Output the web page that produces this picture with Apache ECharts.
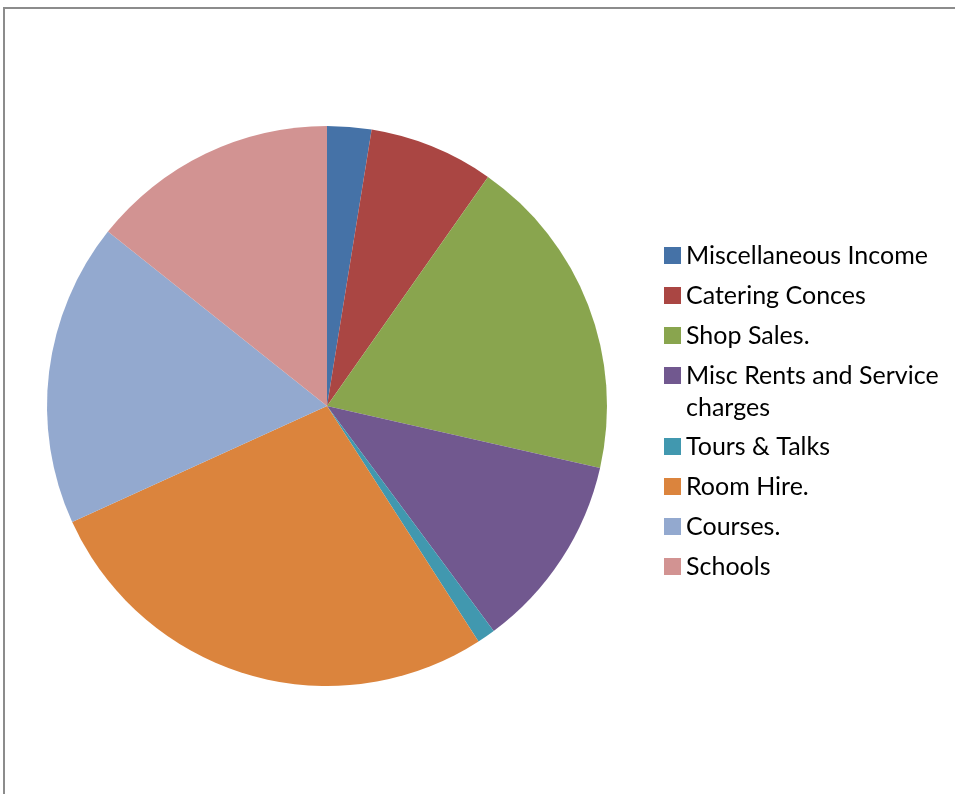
<!DOCTYPE html>
<html>
<head>
<meta charset="utf-8">
<script src="https://cdn.jsdelivr.net/npm/echarts@6/dist/echarts.min.js"></script>
<style>
  html, body { margin: 0; padding: 0; background: #fff; }
  #main { width: 955px; height: 794px; }
</style>
</head>
<body>
<div id="main"></div>
<script>
// income categories and their share (%)
const categories = ['Miscellaneous Income', 'Catering Conces', 'Shop Sales.', 'Misc Rents and Service charges', 'Tours & Talks', 'Room Hire.', 'Courses.', 'Schools'];
const values = [2.55, 7.2, 18.8, 11.3, 1.05, 27.3, 17.5, 14.3];
const colors = ['#4572A7', '#AA4643', '#89A54E', '#71588F', '#4198AF', '#DB843D', '#93A9CF', '#D29392'];

const myChart = echarts.init(document.getElementById('main'));

const baseLegend = {
    orient: 'vertical',
    left: 664,
    padding: 0,
    itemWidth: 17,
    itemHeight: 17,
    itemGap: 8,
    icon: 'rect',
    textStyle: {
        fontFamily: 'Lato',
        fontSize: 25,
        color: '#000',
        lineHeight: 32
    }
};

let option = {
    animation: false,
    color: colors,
    graphic: [
        {
            type: 'rect',
            shape: { x: 4, y: 8, width: 1200, height: 1200 },
            style: { fill: 'none', stroke: '#8c8c8c', lineWidth: 2 },
            silent: true
        }
    ],
    legend: [
        Object.assign({}, baseLegend, { top: 239.5, data: categories.slice(0, 3) }),
        // long name wraps; leading empty line keeps the square on the first line
        Object.assign({}, baseLegend, {
            top: 327.5,
            data: [categories[3]],
            formatter: function () {
                return '\nMisc Rents and Service\ncharges';
            }
        }),
        Object.assign({}, baseLegend, { top: 430.5, data: categories.slice(4) })
    ],
    series: [
        {
            type: 'pie',
            center: [327, 406],
            radius: 280,
            startAngle: 90,
            clockwise: true,
            label: { show: false },
            labelLine: { show: false },
            itemStyle: { borderWidth: 0 },
            emphasis: { disabled: true },
            data: categories.map((c, i) => ({ name: c, value: values[i] }))
        }
    ]
};

myChart.setOption(option);
</script>
</body>
</html>
